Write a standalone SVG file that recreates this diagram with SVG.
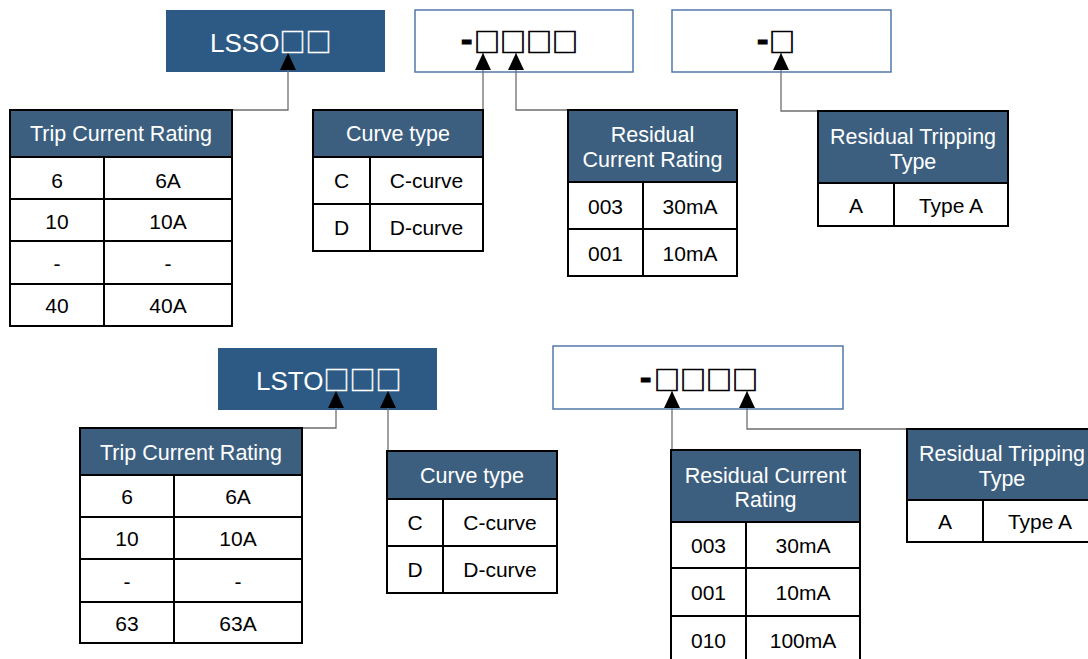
<svg xmlns="http://www.w3.org/2000/svg" width="1088" height="659" viewBox="0 0 1088 659">
<defs>
<style>
.bg{fill:#ffffff}
.code{fill:#2c5a84}
.frame{fill:#ffffff;stroke:#5079a8;stroke-width:1.5}
.th{fill:#3c5f7f;stroke:#000;stroke-width:2}
.tb{fill:#ffffff;stroke:#000;stroke-width:2}
.ln{stroke:#000;stroke-width:2;fill:none}
.ht{font-family:"Liberation Sans",Arial,sans-serif;font-size:21.5px;fill:#ffffff;text-anchor:middle}
.bt{font-family:"Liberation Sans",Arial,sans-serif;font-size:21px;fill:#000;text-anchor:middle}
.big{font-family:"Liberation Sans",Arial,sans-serif;font-size:26px}
.dash{font-size:34px;font-weight:bold;stroke:#000;stroke-width:1.2}
.sq{font-family:"Noto Sans CJK SC","Noto Sans CJK JP",sans-serif;font-size:26px;font-weight:normal}
.sqk{stroke:#000;stroke-width:0.7}
.sqw{stroke:#ffffff;stroke-width:0.4}
.con{fill:none;stroke:#6e6e6e;stroke-width:1.3}
</style>
<marker id="ah" viewBox="0 0 17 16" refX="17" refY="8" markerUnits="userSpaceOnUse" markerWidth="17" markerHeight="16" orient="auto">
<path d="M0,0 L17,8 L0,16 z" fill="#000"/>
</marker>
</defs>
<rect class="bg" x="0" y="0" width="1088" height="659"/>

<g id="code-lsso">
<rect class="code" x="166" y="10" width="219" height="62"/>
<text class="big" x="210" y="52" fill="#ffffff">LSSO<tspan class="sq sqw">□□</tspan></text>
</g>
<g id="code-top-mid">
<rect class="frame" x="415" y="10" width="218" height="62"/>
<text class="big" x="461" y="52" fill="#000"><tspan class="dash" dy="-1">-</tspan><tspan class="sq sqk" x="474" dy="1">□□□□</tspan></text>
</g>
<g id="code-top-right">
<rect class="frame" x="672" y="10" width="219" height="62"/>
<text class="big" x="757" y="52" fill="#000"><tspan class="dash" dy="-1">-</tspan><tspan class="sq sqk" x="769" dy="1">□</tspan></text>
</g>
<g id="code-lsto">
<rect class="code" x="218" y="348" width="219" height="62"/>
<text class="big" x="256" y="390" fill="#ffffff">LSTO<tspan class="sq sqw">□□□</tspan></text>
</g>
<g id="code-bottom-mid">
<rect class="frame" x="553" y="346" width="290" height="63"/>
<text class="big" x="640" y="390" fill="#000"><tspan class="dash" dy="-1">-</tspan><tspan class="sq sqk" x="654" dy="1">□□□□</tspan></text>
</g>

<g id="connectors">
<path class="con" d="M232,110 H288 V53" marker-end="url(#ah)"/>
<path class="con" d="M483,110 V53" marker-end="url(#ah)"/>
<path class="con" d="M568,110 H516 V53" marker-end="url(#ah)"/>
<path class="con" d="M818,111 H781 V53" marker-end="url(#ah)"/>
<path class="con" d="M302,428 H336 V391" marker-end="url(#ah)"/>
<path class="con" d="M388,451 V391" marker-end="url(#ah)"/>
<path class="con" d="M672,450 V391" marker-end="url(#ah)"/>
<path class="con" d="M907,429 H747 V391" marker-end="url(#ah)"/>
</g>

<g id="table-trip-top">
<rect class="th" x="10" y="110" width="222" height="47"/>
<rect class="tb" x="10" y="157" width="222" height="169"/>
<path class="ln" d="M10,199 H232 M10,241 H232 M10,284 H232 M104,157 V326"/>
<text class="ht" x="121" y="141">Trip Current Rating</text>
<text class="bt" x="57" y="188">6</text><text class="bt" x="168" y="188">6A</text>
<text class="bt" x="57" y="229">10</text><text class="bt" x="168" y="229">10A</text>
<text class="bt" x="57" y="271">-</text><text class="bt" x="168" y="271">-</text>
<text class="bt" x="57" y="313">40</text><text class="bt" x="168" y="313">40A</text>
</g>

<g id="table-curve-top">
<rect class="th" x="313" y="110" width="170" height="47"/>
<rect class="tb" x="313" y="157" width="170" height="94"/>
<path class="ln" d="M313,204 H483 M370,157 V251"/>
<text class="ht" x="398" y="141">Curve type</text>
<text class="bt" x="341.5" y="188">C</text><text class="bt" x="426.5" y="188">C-curve</text>
<text class="bt" x="341.5" y="235">D</text><text class="bt" x="426.5" y="235">D-curve</text>
</g>

<g id="table-residual-current-top">
<rect class="th" x="568" y="110" width="169" height="72"/>
<rect class="tb" x="568" y="182" width="169" height="94"/>
<path class="ln" d="M568,229 H737 M643,182 V276"/>
<text class="ht" x="652.5" y="142">Residual</text>
<text class="ht" x="652.5" y="167">Current Rating</text>
<text class="bt" x="605.5" y="214">003</text><text class="bt" x="690" y="214">30mA</text>
<text class="bt" x="605.5" y="261">001</text><text class="bt" x="690" y="261">10mA</text>
</g>

<g id="table-tripping-top">
<rect class="th" x="818" y="111" width="190" height="72"/>
<rect class="tb" x="818" y="183" width="190" height="43"/>
<path class="ln" d="M894,183 V226"/>
<text class="ht" x="913" y="144">Residual Tripping</text>
<text class="ht" x="913" y="169">Type</text>
<text class="bt" x="856" y="213">A</text><text class="bt" x="951" y="213">Type A</text>
</g>

<g id="table-trip-bottom">
<rect class="th" x="80" y="428" width="222" height="47"/>
<rect class="tb" x="80" y="475" width="222" height="168"/>
<path class="ln" d="M80,517 H302 M80,559 H302 M80,602 H302 M174,475 V643"/>
<text class="ht" x="191" y="460">Trip Current Rating</text>
<text class="bt" x="127" y="504">6</text><text class="bt" x="238" y="504">6A</text>
<text class="bt" x="127" y="546">10</text><text class="bt" x="238" y="546">10A</text>
<text class="bt" x="127" y="589">-</text><text class="bt" x="238" y="589">-</text>
<text class="bt" x="127" y="631">63</text><text class="bt" x="238" y="631">63A</text>
</g>

<g id="table-curve-bottom">
<rect class="th" x="387" y="451" width="170" height="48"/>
<rect class="tb" x="387" y="499" width="170" height="94"/>
<path class="ln" d="M387,546 H557 M443,499 V593"/>
<text class="ht" x="472" y="483">Curve type</text>
<text class="bt" x="415" y="530">C</text><text class="bt" x="500" y="530">C-curve</text>
<text class="bt" x="415" y="577">D</text><text class="bt" x="500" y="577">D-curve</text>
</g>

<g id="table-residual-current-bottom">
<rect class="th" x="671" y="450" width="189" height="72"/>
<rect class="tb" x="671" y="522" width="189" height="142"/>
<path class="ln" d="M671,568 H860 M671,616 H860 M746,522 V664"/>
<text class="ht" x="765.5" y="483">Residual Current</text>
<text class="ht" x="765.5" y="507">Rating</text>
<text class="bt" x="708.5" y="553">003</text><text class="bt" x="803" y="553">30mA</text>
<text class="bt" x="708.5" y="600">001</text><text class="bt" x="803" y="600">10mA</text>
<text class="bt" x="708.5" y="648">010</text><text class="bt" x="803" y="648">100mA</text>
</g>

<g id="table-tripping-bottom">
<rect class="th" x="907" y="429" width="190" height="71"/>
<rect class="tb" x="907" y="500" width="190" height="42"/>
<path class="ln" d="M983,500 V542"/>
<text class="ht" x="1002" y="461">Residual Tripping</text>
<text class="ht" x="1002" y="486">Type</text>
<text class="bt" x="945" y="529">A</text><text class="bt" x="1040" y="529">Type A</text>
</g>
</svg>
